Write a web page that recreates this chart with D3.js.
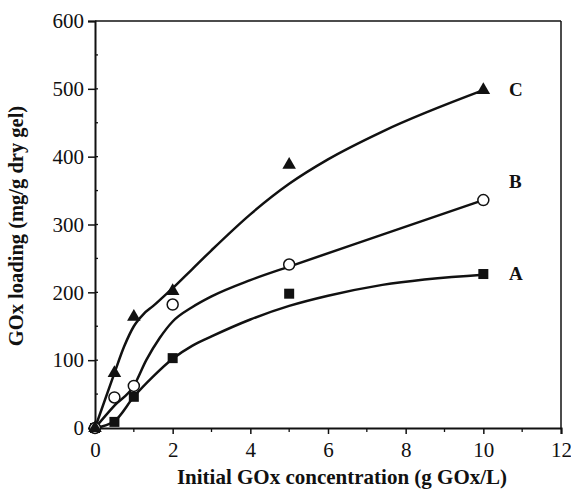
<!DOCTYPE html>
<html>
<head>
<meta charset="utf-8">
<script src="https://cdn.jsdelivr.net/npm/d3@7"></script>
<style>
  html, body { margin: 0; padding: 0; background: #fff; }
  svg { display: block; }
  text { font-family: "Liberation Serif", "Times New Roman", serif; fill: #111; }
</style>
</head>
<body>
<svg id="chart" width="571" height="490"></svg>
<script>
// ---- data ----
const xValues = [0, 0.5, 1, 2, 5, 10];
const seriesA = [0, 9, 46, 103, 198, 227];     // squares
const seriesB = [0, 45, 62, 182, 241, 336];    // open circles
const seriesC = [0, 81, 164, 202, 388, 498];   // triangles

const fitXA = [0, 0.5, 1, 1.5, 2, 2.5, 3, 4, 5, 6, 7.4, 10];
const fitA  = [0, 10, 46, 76, 102, 121, 135, 160, 180, 195, 211, 226];
const fitXB = [0, 0.5, 1, 1.32, 1.67, 2, 2.5, 3, 4, 5, 7.4, 10];
const fitB  = [0, 33, 62, 100, 133, 157, 178, 194, 218, 238, 285, 336];
const fitXC = [0, 0.5, 0.75, 1, 1.25, 1.5, 1.75, 2, 2.5, 3, 4, 5, 6, 7.4, 10];
const fitC  = [0, 81, 120, 150, 168, 180, 193, 206, 234, 262, 315, 360, 396, 437, 498];

const seriesLabels = ["A", "B", "C"];
const xTicks = [0, 2, 4, 6, 8, 10, 12];
const yTicks = [0, 100, 200, 300, 400, 500, 600];
const xTitle = "Initial GOx concentration (g GOx/L)";
const yTitle = "GOx loading (mg/g dry gel)";

// ---- layout ----
const svg = d3.select("#chart");
const mLeft = 95, mRight = 561, mTop = 21, mBottom = 428;
const x = d3.scaleLinear().domain([0, 12]).range([mLeft, mRight]);
const y = d3.scaleLinear().domain([0, 600]).range([mBottom, mTop]);

// frame (top/right)
svg.append("line").attr("x1", mLeft).attr("x2", mRight).attr("y1", mTop).attr("y2", mTop)
  .attr("stroke", "#111").attr("stroke-width", 1.5);
svg.append("line").attr("x1", mRight).attr("x2", mRight).attr("y1", mTop).attr("y2", mBottom)
  .attr("stroke", "#111").attr("stroke-width", 1.5);

// x axis
const xAxis = svg.append("g").attr("transform", `translate(0,${mBottom})`)
  .call(d3.axisBottom(x).tickValues(xTicks).tickSize(6).tickPadding(8).tickFormat(d3.format("d")));
xAxis.select(".domain").attr("stroke", "#111").attr("stroke-width", 2);
xAxis.selectAll(".tick line").attr("stroke", "#111").attr("stroke-width", 1.5);
xAxis.selectAll(".tick text").style("font-size", "21px").style("font-family", "Liberation Serif").attr("fill", "#111");
// minor x ticks
svg.append("g").selectAll("line").data(d3.range(1, 12, 2)).join("line")
  .attr("x1", d => x(d)).attr("x2", d => x(d)).attr("y1", mBottom).attr("y2", mBottom + 4)
  .attr("stroke", "#111").attr("stroke-width", 1.3);

// y axis
const yAxis = svg.append("g").attr("transform", `translate(${mLeft},0)`)
  .call(d3.axisLeft(y).tickValues(yTicks).tickSize(7).tickPadding(4).tickFormat(d3.format("d")));
yAxis.select(".domain").attr("stroke", "#111").attr("stroke-width", 2);
yAxis.selectAll(".tick line").attr("stroke", "#111").attr("stroke-width", 1.5);
yAxis.selectAll(".tick text").style("font-size", "21px").style("font-family", "Liberation Serif").attr("fill", "#111");
// minor y ticks (inward)
svg.append("g").selectAll("line").data(d3.range(50, 600, 50)).join("line")
  .attr("x1", mLeft).attr("x2", mLeft + 3).attr("y1", d => y(d)).attr("y2", d => y(d))
  .attr("stroke", "#111").attr("stroke-width", 1.3);

// axis titles
svg.append("text").attr("x", 342).attr("y", 484).attr("text-anchor", "middle")
  .style("font-size", "21px").style("font-weight", "bold").text(xTitle);
svg.append("text").attr("transform", "translate(23,226) rotate(-90)").attr("text-anchor", "middle")
  .style("font-size", "20.5px").style("font-weight", "bold").text(yTitle);

// fitted curves
const line = d3.line().x(d => x(d[0])).y(d => y(d[1])).curve(d3.curveMonotoneX);
const fits = [d3.zip(fitXA, fitA), d3.zip(fitXB, fitB), d3.zip(fitXC, fitC)];
svg.append("g").selectAll("path").data(fits).join("path")
  .attr("d", line).attr("fill", "none").attr("stroke", "#111").attr("stroke-width", 2.5);

// markers
const ptsA = d3.zip(xValues, seriesA), ptsB = d3.zip(xValues, seriesB), ptsC = d3.zip(xValues, seriesC);
svg.append("g").selectAll("rect").data(ptsA).join("rect")
  .attr("x", d => x(d[0]) - 5).attr("y", d => y(d[1]) - 5).attr("width", 10).attr("height", 10)
  .attr("fill", "#111");
svg.append("g").selectAll("circle").data(ptsB).join("circle")
  .attr("cx", d => x(d[0])).attr("cy", d => y(d[1])).attr("r", 5.5)
  .attr("fill", "#fff").attr("stroke", "#111").attr("stroke-width", 1.5);
const tri = d3.symbol().type(d3.symbolTriangle).size(80);
svg.append("g").selectAll("path").data(ptsC).join("path")
  .attr("transform", d => `translate(${x(d[0])},${y(d[1])})`).attr("d", tri).attr("fill", "#111");

// series labels
const labelVals = [seriesA[5], seriesB[5], seriesC[5]];
const labelOffsets = [0, -18, 0];
svg.append("g").selectAll("text").data(seriesLabels).join("text")
  .attr("x", 509).attr("y", (d, i) => y(labelVals[i]) + 6 + labelOffsets[i])
  .style("font-size", "19px").style("font-weight", "bold").text(d => d);
</script>
</body>
</html>
